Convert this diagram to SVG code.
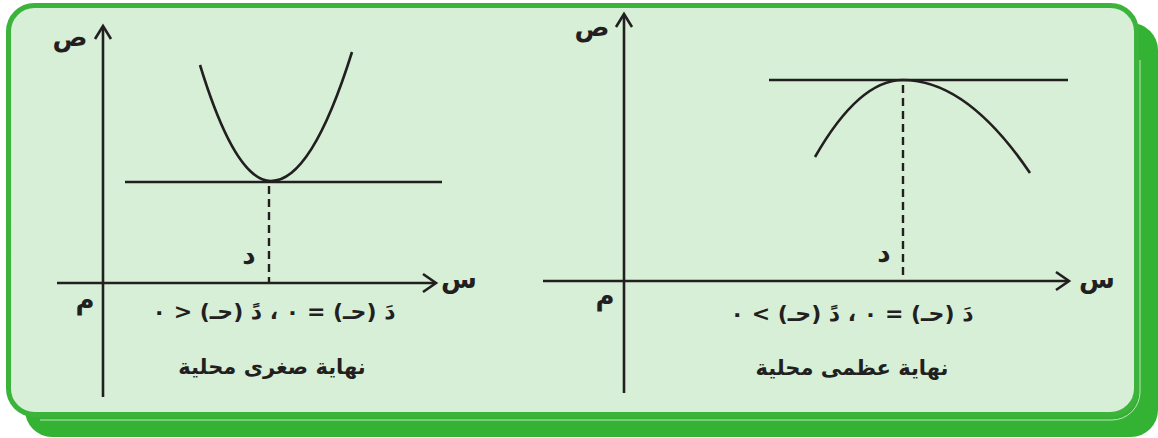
<svg xmlns="http://www.w3.org/2000/svg" width="1158" height="438" viewBox="0 0 1158 438">
<style>
.ax{stroke:#231f20;stroke-width:2.6;fill:none;stroke-linecap:butt}
.hd{stroke:#231f20;stroke-width:2.6;fill:none;stroke-linejoin:miter}
.cv{stroke:#231f20;stroke-width:2.6;fill:none}
.ds{stroke:#231f20;stroke-width:2.4;fill:none;stroke-dasharray:8 5}
.t{font-family:"DejaVu Sans",sans-serif;font-weight:bold;fill:#231f20;direction:rtl;unicode-bidi:embed}
.lb{font-size:26px}
.fm{font-size:22px}
.cp{font-size:21px}
</style>
<g id="frame">
<rect x="25" y="23" width="1133" height="414" rx="27" fill="#34b233"/>
<path d="M1140,60 V392 A28,28 0 0 1 1112,420 H40" fill="none" stroke="#bfe6b9" stroke-width="1"/>
<rect x="8.5" y="5.5" width="1128" height="409" rx="26" fill="#d6efd6" stroke="#3cb33b" stroke-width="5"/>
</g>
<g id="panel-min">
<line class="ax" x1="103" y1="27" x2="103" y2="397"/>
<polyline class="hd" points="95,39 103,26 111,39"/>
<line class="ax" x1="57" y1="283" x2="436" y2="283"/>
<polyline class="hd" points="423,274 436,283 423,292"/>
<line class="cv" x1="125" y1="182" x2="442" y2="182"/>
<path class="cv" d="M200,65 Q235.5,181 271,181 Q311.6,181 352,52"/>
<line class="ds" x1="269" y1="186" x2="269" y2="283"/>
<text class="t lb" x="70" y="46" text-anchor="middle">ص</text>
<text class="t lb" x="459" y="288" text-anchor="middle">س</text>
<text class="t lb" x="85" y="309" text-anchor="middle">م</text>
<text class="t lb" x="249" y="264" text-anchor="middle">د</text>
<text class="t fm" x="274" y="319" text-anchor="middle">دَ (حـ) = ٠ ، دً (حـ) &lt; ٠</text>
<text class="t cp" x="272" y="374" text-anchor="middle">نهاية صغرى محلية</text>
</g>
<g id="panel-max">
<line class="ax" x1="624" y1="15" x2="624" y2="393"/>
<polyline class="hd" points="616,27 624,14 632,27"/>
<line class="ax" x1="543" y1="281" x2="1069" y2="281"/>
<polyline class="hd" points="1056,272 1069,281 1056,290"/>
<line class="cv" x1="769" y1="80" x2="1068" y2="80"/>
<path class="cv" d="M815,157 Q859,80 903,80 Q967,80 1030,173"/>
<line class="ds" x1="903" y1="85" x2="903" y2="281"/>
<text class="t lb" x="592" y="36" text-anchor="middle">ص</text>
<text class="t lb" x="1097" y="288" text-anchor="middle">س</text>
<text class="t lb" x="605" y="305" text-anchor="middle">م</text>
<text class="t lb" x="884" y="262" text-anchor="middle">د</text>
<text class="t fm" x="852" y="321" text-anchor="middle">دَ (حـ) = ٠ ، دً (حـ) &gt; ٠</text>
<text class="t cp" x="852" y="375" text-anchor="middle">نهاية عظمى محلية</text>
</g>
</svg>
